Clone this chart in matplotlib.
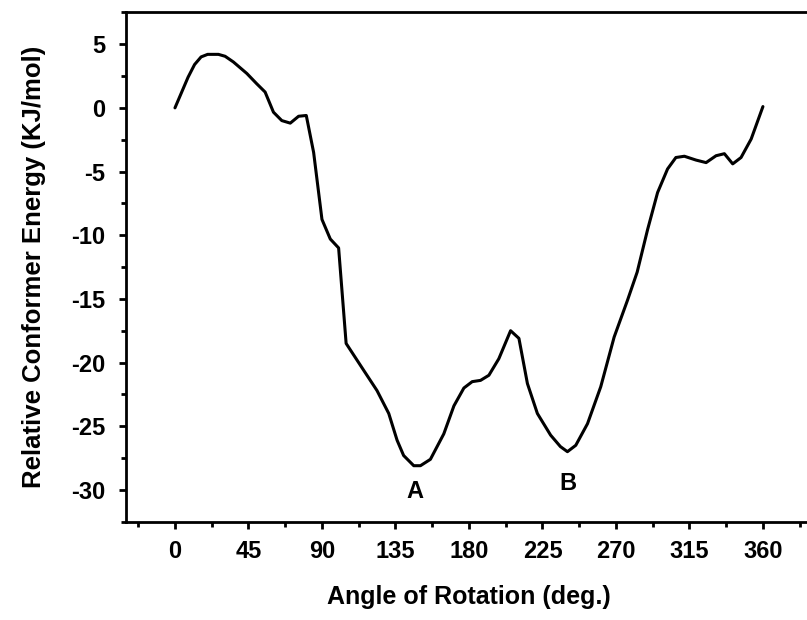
import matplotlib
matplotlib.use("Agg")
import matplotlib.pyplot as plt
from matplotlib.ticker import MultipleLocator

# Torsion scan: angle of rotation (deg) vs relative conformer energy (kJ/mol)
angle = [0, 4, 8, 12, 16, 20, 26.6, 30.7, 35.8, 44, 50, 55.2, 60.3, 65.4, 70.6,
         75.7, 80.4, 84.9, 90, 95.1, 100.2, 104.8, 115.5, 123.7, 130.9, 136,
         140, 146.2, 150.3, 156.4, 164.6, 170.8, 176.9, 182, 187.1, 192.2,
         198.3, 205.5, 210.6, 215.8, 221.9, 230, 236, 240.3, 245.4, 252.6,
         260.7, 268.9, 277.1, 283, 289.4, 295.5, 301.6, 306.7, 311.9, 319,
         325.2, 331.3, 336.4, 341.5, 346.6, 352.8, 360]
energy = [0, 1.2, 2.4, 3.4, 4.0, 4.2, 4.2, 4.05, 3.6, 2.7, 1.9, 1.24, -0.34,
          -1.0, -1.2, -0.66, -0.6, -3.5, -8.76, -10.3, -11.0, -18.5, -20.6,
          -22.2, -24.0, -26.1, -27.3, -28.1, -28.1, -27.6, -25.6, -23.4, -22.0,
          -21.5, -21.4, -21.0, -19.7, -17.5, -18.1, -21.65, -24.0, -25.7,
          -26.6, -27.0, -26.5, -24.8, -21.9, -18.0, -15.1, -12.9, -9.55, -6.65,
          -4.8, -3.9, -3.8, -4.1, -4.3, -3.76, -3.6, -4.4, -3.9, -2.45, 0.1]

# minima labels
minima_names = ["A", "B"]
minima_x = [147, 240.5]
minima_y = [-30.1, -29.5]

plt.rcParams["font.family"] = ["Liberation Sans", "DejaVu Sans"]
plt.rcParams["font.weight"] = "bold"
plt.rcParams["axes.unicode_minus"] = False

fig = plt.figure(figsize=(8.07, 6.2), dpi=100)
ax = fig.add_axes([0.1561, 0.1585, 0.850, 0.8216])

ax.plot(angle, energy, color="black", linewidth=2.2,
        solid_joinstyle="round", solid_capstyle="round")

for name, x, y in zip(minima_names, minima_x, minima_y):
    ax.text(x, y, name, ha="center", va="center", fontsize=17, fontweight="bold")

ax.set_xlim(-30, 390)
ax.set_ylim(-32.5, 7.5)
ax.set_xticks(range(0, 361, 45))
ax.xaxis.set_minor_locator(MultipleLocator(22.5))
ax.yaxis.set_major_locator(MultipleLocator(5))
ax.yaxis.set_minor_locator(MultipleLocator(2.5))

ax.tick_params(which="major", direction="out", length=5, width=2, labelsize=17)
ax.tick_params(axis="x", which="major", pad=8)
ax.tick_params(axis="y", which="major", pad=10)
ax.tick_params(which="minor", direction="out", length=3.5, width=2)
ax.tick_params(top=False, right=False, which="both")
for s in ax.spines.values():
    s.set_linewidth(2)

ax.set_xlabel("Angle of Rotation (deg.)", fontsize=18, fontweight="bold", labelpad=16)
ax.set_ylabel("Relative Conformer Energy (KJ/mol)", fontsize=18.5, fontweight="bold", labelpad=18)

fig.savefig("out.png", dpi=100)
